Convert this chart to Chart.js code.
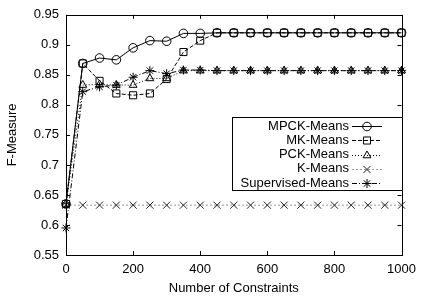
<!DOCTYPE html>
<html>
<head>
<meta charset="utf-8">
<script src="https://cdn.jsdelivr.net/npm/chart.js@4.4.0/dist/chart.umd.min.js"></script>
<style>
  html, body { margin: 0; padding: 0; background: #fff; }
  #wrap { width: 423px; height: 303px; }
</style>
</head>
<body>
<div id="wrap"><canvas id="fChart" width="423" height="303"></canvas></div>
<script>
// data
const constraints = [0, 50, 100, 150, 200, 250, 300, 350, 400, 450, 500, 550, 600, 650, 700, 750, 800, 850, 900, 950, 1000];
const mpckMeans = [0.635, 0.869, 0.878, 0.875, 0.895, 0.907, 0.906, 0.919, 0.919, 0.92, 0.92, 0.92, 0.92, 0.92, 0.92, 0.92, 0.92, 0.92, 0.92, 0.92, 0.92];
const mkMeans = [0.635, 0.869, 0.840, 0.819, 0.816, 0.819, 0.843, 0.888, 0.907, 0.92, 0.92, 0.92, 0.92, 0.92, 0.92, 0.92, 0.92, 0.92, 0.92, 0.92, 0.92];
const pckMeans = [0.635, 0.833, 0.834, 0.833, 0.833, 0.844, 0.844, 0.857, 0.857, 0.857, 0.857, 0.857, 0.857, 0.857, 0.857, 0.857, 0.857, 0.857, 0.857, 0.857, 0.857];
const kMeans = [0.633, 0.633, 0.633, 0.633, 0.633, 0.633, 0.633, 0.633, 0.633, 0.633, 0.633, 0.633, 0.633, 0.633, 0.633, 0.633, 0.633, 0.633, 0.633, 0.633, 0.633];
const supervisedMeans = [0.595, 0.822, 0.830, 0.833, 0.846, 0.857, 0.852, 0.858, 0.858, 0.857, 0.857, 0.857, 0.857, 0.857, 0.857, 0.857, 0.857, 0.857, 0.857, 0.857, 0.857];
const seriesNames = ['MPCK-Means', 'MK-Means', 'PCK-Means', 'K-Means', 'Supervised-Means'];

const FONT = 'Liberation Sans, Arial, Helvetica, sans-serif';

function toPoints(vals) {
    return vals.map((v, i) => ({ x: constraints[i], y: v }));
}

function makeSet(label, vals, opts) {
    return Object.assign({
        label: label,
        data: toPoints(vals),
        borderColor: '#000',
        borderWidth: 1,
        pointBorderColor: '#000',
        pointBackgroundColor: 'rgba(0,0,0,0)',
        pointBorderWidth: 1,
        pointRadius: 4.5,
        fill: false,
        tension: 0,
        clip: false
    }, opts);
}

const datasets = [
    makeSet(seriesNames[0], mpckMeans, { pointStyle: 'circle', pointRadius: 4.3 }),
    makeSet(seriesNames[1], mkMeans, { pointStyle: 'rect', pointRadius: 5, borderDash: [4, 2] }),
    makeSet(seriesNames[2], pckMeans, { pointStyle: 'triangle', pointRadius: 4.5, borderDash: [1, 2] }),
    makeSet(seriesNames[3], kMeans, { pointStyle: 'crossRot', pointRadius: 5, borderColor: '#9a9a9a', borderDash: [2, 2], pointBorderColor: '#222' }),
    makeSet(seriesNames[4], supervisedMeans, { pointStyle: 'star', pointRadius: 4.5, borderDash: [5, 2, 1, 2] })
];

// gnuplot-like frame with inward ticks on all four sides
const framePlugin = {
    id: 'frame',
    afterDatasetsDraw(chart) {
        const { ctx, chartArea: a, scales } = chart;
        ctx.save();
        ctx.strokeStyle = '#000';
        ctx.lineWidth = 1;
        ctx.setLineDash([]);
        ctx.strokeRect(Math.round(a.left) + 0.5, Math.round(a.top) + 0.5, Math.round(a.right - a.left), Math.round(a.bottom - a.top));
        const len = 4;
        ctx.beginPath();
        scales.x.ticks.forEach(t => {
            const px = Math.round(scales.x.getPixelForValue(t.value)) + 0.5;
            ctx.moveTo(px, a.bottom); ctx.lineTo(px, a.bottom - len);
            ctx.moveTo(px, a.top); ctx.lineTo(px, a.top + len);
        });
        scales.y.ticks.forEach(t => {
            const py = Math.round(scales.y.getPixelForValue(t.value)) + 0.5;
            ctx.moveTo(a.left, py); ctx.lineTo(a.left + len, py);
            ctx.moveTo(a.right, py); ctx.lineTo(a.right - len, py);
        });
        ctx.stroke();
        ctx.restore();
    }
};

// legend box in the lower right, text right aligned with the sample after it
const legendBoxPlugin = {
    id: 'legendBox',
    afterDraw(chart) {
        const { ctx, chartArea: a } = chart;
        const right = Math.round(a.right);
        const boxLeft = 232, boxTop = 117, boxBottom = 190;
        ctx.save();
        ctx.fillStyle = '#fff';
        ctx.fillRect(boxLeft, boxTop, right - boxLeft, boxBottom - boxTop);
        ctx.strokeStyle = '#000';
        ctx.lineWidth = 1;
        ctx.strokeRect(boxLeft + 0.5, boxTop + 0.5, right - boxLeft, boxBottom - boxTop);
        ctx.font = '13px ' + FONT;
        ctx.textAlign = 'right';
        ctx.textBaseline = 'middle';
        chart.data.datasets.forEach((ds, i) => {
            const y = 126 + i * 14.3;
            ctx.fillStyle = '#000';
            ctx.fillText(ds.label, 349, y);
            ctx.strokeStyle = ds.borderColor;
            ctx.setLineDash(ds.borderDash || []);
            ctx.beginPath();
            ctx.moveTo(352, Math.round(y) + 0.5);
            ctx.lineTo(382, Math.round(y) + 0.5);
            ctx.stroke();
            ctx.setLineDash([]);
            ctx.strokeStyle = ds.pointBorderColor;
            ctx.fillStyle = 'rgba(0,0,0,0)';
            Chart.helpers.drawPoint(ctx, { pointStyle: ds.pointStyle, radius: ds.pointRadius, rotation: 0, borderWidth: 1 }, 367, Math.round(y) + 0.5);
        });
        ctx.restore();
    }
};

new Chart(document.getElementById('fChart'), {
    type: 'line',
    data: { datasets: datasets },
    options: {
        responsive: false,
        animation: false,
        layout: { padding: { left: 0, right: 14, top: 8, bottom: 0 } },
        plugins: { legend: { display: false }, tooltip: { enabled: false } },
        scales: {
            x: {
                type: 'linear',
                min: 0,
                max: 1000,
                grid: { display: false, drawTicks: false },
                border: { display: false },
                ticks: { stepSize: 200, padding: 7, color: '#000', maxRotation: 0, font: { family: FONT, size: 13 }, callback: v => String(v) },
                title: { display: true, text: 'Number of Constraints', color: '#000', padding: { top: 0, bottom: 7 }, font: { family: FONT, size: 13 } },
                afterFit(s) { s.height = 48; }
            },
            y: {
                min: 0.55,
                max: 0.95,
                grid: { display: false, drawTicks: false },
                border: { display: false },
                ticks: {
                    stepSize: 0.05,
                    padding: 7,
                    color: '#000',
                    font: { family: FONT, size: 13 },
                    callback: v => String(Number(v.toFixed(2)))
                },
                title: { display: true, text: 'F-Measure', color: '#000', padding: { top: 5, bottom: 0 }, font: { family: FONT, size: 13 } },
                afterFit(s) { s.width = 66; }
            }
        }
    },
    plugins: [framePlugin, legendBoxPlugin]
});
</script>
</body>
</html>
